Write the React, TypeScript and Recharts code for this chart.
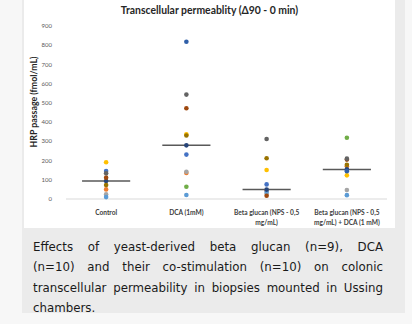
import React from "react";
import {
  ScatterChart,
  Scatter,
  XAxis,
  YAxis,
  ReferenceLine,
} from "recharts";

// treatment groups on the x axis
const groups = [
  ["Control"],
  ["DCA (1mM)"],
  ["Beta glucan (NPS - 0,5", "mg/mL)"],
  ["Beta glucan (NPS - 0,5", "mg/mL) + DCA (1 mM)"],
];

const yTicks = [0, 100, 200, 300, 400, 500, 600, 700, 800, 900];

// one series per biopsy donor: Control, DCA, Beta glucan, Beta glucan + DCA
const donor1 = [146, 231, 76, 152];
const donor2 = [50, 135, 45, 170];
const donor3 = [24, 142, 28, 47];
const donor4 = [191, 337, 151, 123];
const donor5 = [10, 21, 38, 20];
const donor6 = [null, 64, null, 319];
const donor7 = [94, 279, 49, 154];
const donor8 = [111, 472, 17, 205];
const donor9 = [134, 543, 312, 210];
const donor10 = [73, 330, 212, 178];
const donor11 = [null, 818, null, 145];

const donors = [donor1, donor2, donor3, donor4, donor5, donor6, donor7, donor8, donor9, donor10, donor11];

const palette = [
  "#4472C4", "#ED7D31", "#A5A5A5", "#FFC000", "#5B9BD5", "#70AD47",
  "#264478", "#9E480E", "#636363", "#997300", "#2F5FA8",
];

const median = (vals: number[]) => {
  const s = [...vals].sort((a, b) => a - b);
  const m = Math.floor(s.length / 2);
  return s.length % 2 ? s[m] : (s[m - 1] + s[m]) / 2;
};

const medians = groups.map((_, gi) =>
  median(donors.map((d) => d[gi]).filter((v): v is number => v !== null))
);

const Dot = (props: any) => (
  <circle cx={props.cx} cy={props.cy} r={2.3} fill={props.fill} />
);

const GroupTick = ({ x, y, payload }: any) => {
  const lines = groups[payload.value] || [];
  return (
    <text x={x} y={y} textAnchor="middle" fontSize={6.6} fontWeight={700} fill="#404040">
      {lines.map((l, i) => (
        <tspan key={i} x={x} dy={i === 0 ? 8 : 9.5}>
          {l}
        </tspan>
      ))}
    </text>
  );
};

const YTitle = () => (
  <text
    x={37}
    y={102}
    transform="rotate(-90 37 102)"
    textAnchor="middle"
    fontSize={8.8}
    fontWeight={700}
    fill="#262626"
  >
    HRP passage (fmol/mL)
  </text>
);

const caption = [
  "Effects of yeast-derived beta glucan (n=9), DCA",
  "(n=10) and their co-stimulation (n=10) on colonic",
  "transcellular permeability in biopsies mounted in Ussing",
  "chambers.",
];

export default function App() {
  return (
    <div
      style={{
        position: "absolute",
        left: 0,
        top: 0,
        width: 412,
        height: 324,
        background: "#f7f7f7",
        fontFamily: "Lato, sans-serif",
        overflow: "hidden",
      }}
    >
      <div style={{ position: "absolute", left: 22, top: 0, width: 383, height: 313, background: "#ebebeb" }} />
      <div style={{ position: "absolute", left: 24, top: 0, width: 371, height: 228, background: "#ffffff" }} />
      <div
        style={{
          position: "absolute",
          left: 24,
          width: 371,
          top: 4,
          textAlign: "center",
          fontSize: 10.4,
          fontWeight: 700,
          color: "#262626",
        }}
      >
        Transcellular permeablity (Δ90 - 0 min)
      </div>
      <div style={{ position: "absolute", left: 0, top: 0 }}>
        <ScatterChart
          width={412}
          height={228}
          margin={{ top: 26, right: 25, left: 0, bottom: 0 }}
          style={{ fontFamily: "Lato, sans-serif" }}
        >
          <XAxis
            type="number"
            dataKey="x"
            domain={[-0.5, 3.5]}
            ticks={[0, 1, 2, 3]}
            tick={<GroupTick />}
            tickLine={false}
            axisLine={{ stroke: "#d9d9d9" }}
            height={29}
            interval={0}
          />
          <YAxis
            type="number"
            dataKey="y"
            domain={[0, 900]}
            ticks={yTicks}
            width={66}
            axisLine={false}
            tickLine={false}
            tick={{ fontSize: 6, fill: "#595959" }}
            tickMargin={8}
          />
          {medians.map((m, i) => (
            <ReferenceLine
              key={i}
              segment={[
                { x: i - 0.3, y: m },
                { x: i + 0.3, y: m },
              ]}
              stroke="#595959"
              strokeWidth={1.5}
            />
          ))}
          {donors.map((d, si) => (
            <Scatter
              key={si}
              data={d
                .map((v, gi) => ({ x: gi, y: v }))
                .filter((p) => p.y !== null)}
              fill={palette[si]}
              shape={<Dot />}
              isAnimationActive={false}
            />
          ))}
          <YTitle />
        </ScatterChart>
      </div>
      <div
        style={{
          position: "absolute",
          left: 33,
          top: 237,
          width: 350,
          fontFamily: "'DejaVu Sans', sans-serif",
          fontSize: 11.8,
          lineHeight: "20.3px",
          color: "#1a1a1a",
        }}
      >
        {caption.map((line, i) => (
          <div
            key={i}
            style={{
              textAlign: "justify",
              textAlignLast: i < caption.length - 1 ? "justify" : "left",
              whiteSpace: "nowrap",
            }}
          >
            {line}
          </div>
        ))}
      </div>
    </div>
  );
}
